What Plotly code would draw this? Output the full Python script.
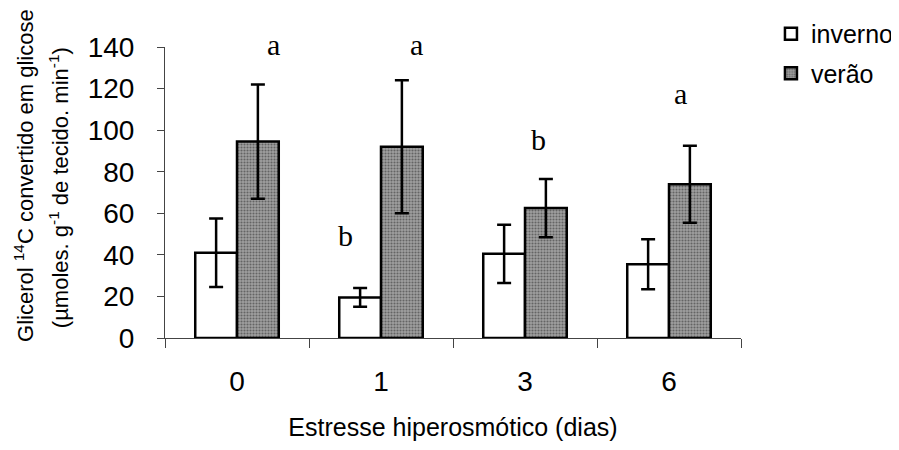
import plotly.graph_objects as go

categories = ["0", "1", "3", "6"]
inverno = [41.0, 19.5, 40.5, 35.5]
inverno_err = [16.5, 4.5, 14.0, 12.0]
verao = [94.5, 92.0, 62.5, 74.0]
verao_err = [27.5, 32.0, 14.0, 18.5]

# significance letters: (category, text, value, pixel x-shift)
letter_cats = ["0", "1", "1", "3", "6"]
letter_texts = ["a", "a", "b", "b", "a"]
letter_vals = [140.0, 140.0, 48.0, 94.0, 116.0]
letter_shift = [36, 35, -36, 13, 11]

fig = go.Figure()
fig.add_trace(go.Bar(
    name="inverno", x=categories, y=inverno, legendgroup="g1",
    marker=dict(color="white", line=dict(color="black", width=2.5)),
    error_y=dict(type="data", array=inverno_err, color="black", thickness=2.5, width=7),
))
fig.add_trace(go.Bar(
    name="verão", x=categories, y=verao, legendgroup="g2",
    marker=dict(color="#a0a0a0", line=dict(color="black", width=2.5),
                pattern=dict(shape=".", fgcolor="#282828", bgcolor="#a0a0a0", size=3, solidity=0.4)),
    error_y=dict(type="data", array=verao_err, color="black", thickness=2.5, width=7),
))

for c, t, v, s in zip(letter_cats, letter_texts, letter_vals, letter_shift):
    fig.add_annotation(x=categories.index(c), y=v, text=t, xshift=s, yshift=3, showarrow=False,
                       font=dict(family="Liberation Serif", size=30, color="black"),
                       yanchor="middle")

# two-line y-axis title as annotations (Excel-like spacing)
fig.add_annotation(xref="paper", yref="paper", x=-0.245, y=0.56, textangle=-90,
                   text="Glicerol <sup>14</sup>C convertido em glicose", showarrow=False,
                   font=dict(size=22, color="black"), xanchor="center", yanchor="middle")
fig.add_annotation(xref="paper", yref="paper", x=-0.184, y=0.515, textangle=-90,
                   text="(µmoles. g<sup>-1</sup> de tecido. min<sup>-1</sup>)", showarrow=False,
                   font=dict(size=22, color="black"), xanchor="center", yanchor="middle")

fig.update_layout(
    width=891, height=442,
    margin=dict(l=157, r=158, t=39, b=112, autoexpand=False),
    paper_bgcolor="white", plot_bgcolor="white",
    barmode="group", bargap=0.42, bargroupgap=0,
    font=dict(family="Liberation Sans", color="black"),
    showlegend=True,
    legend=dict(x=1.052, y=1.124, xanchor="left", yanchor="top", font=dict(size=25),
                bgcolor="rgba(0,0,0,0)", tracegroupgap=4, itemwidth=30),
    xaxis=dict(
        type="category", range=[-0.5, len(categories) - 0.5],
        showline=True, linecolor="#444", linewidth=1,
        ticks="outside", tickson="boundaries", ticklen=9, tickcolor="#444",
        tickfont=dict(size=28), ticklabelstandoff=18,
        title=dict(text="Estresse hiperosmótico (dias)", font=dict(size=25), standoff=22),
    ),
    yaxis=dict(
        range=[0, 140], dtick=20, showgrid=False, zeroline=False,
        showline=True, linecolor="#444", linewidth=1,
        ticks="outside", ticklen=7, tickcolor="#444",
        tickfont=dict(size=28), ticklabelstandoff=17,
    ),
)

fig.write_html("out.html")
